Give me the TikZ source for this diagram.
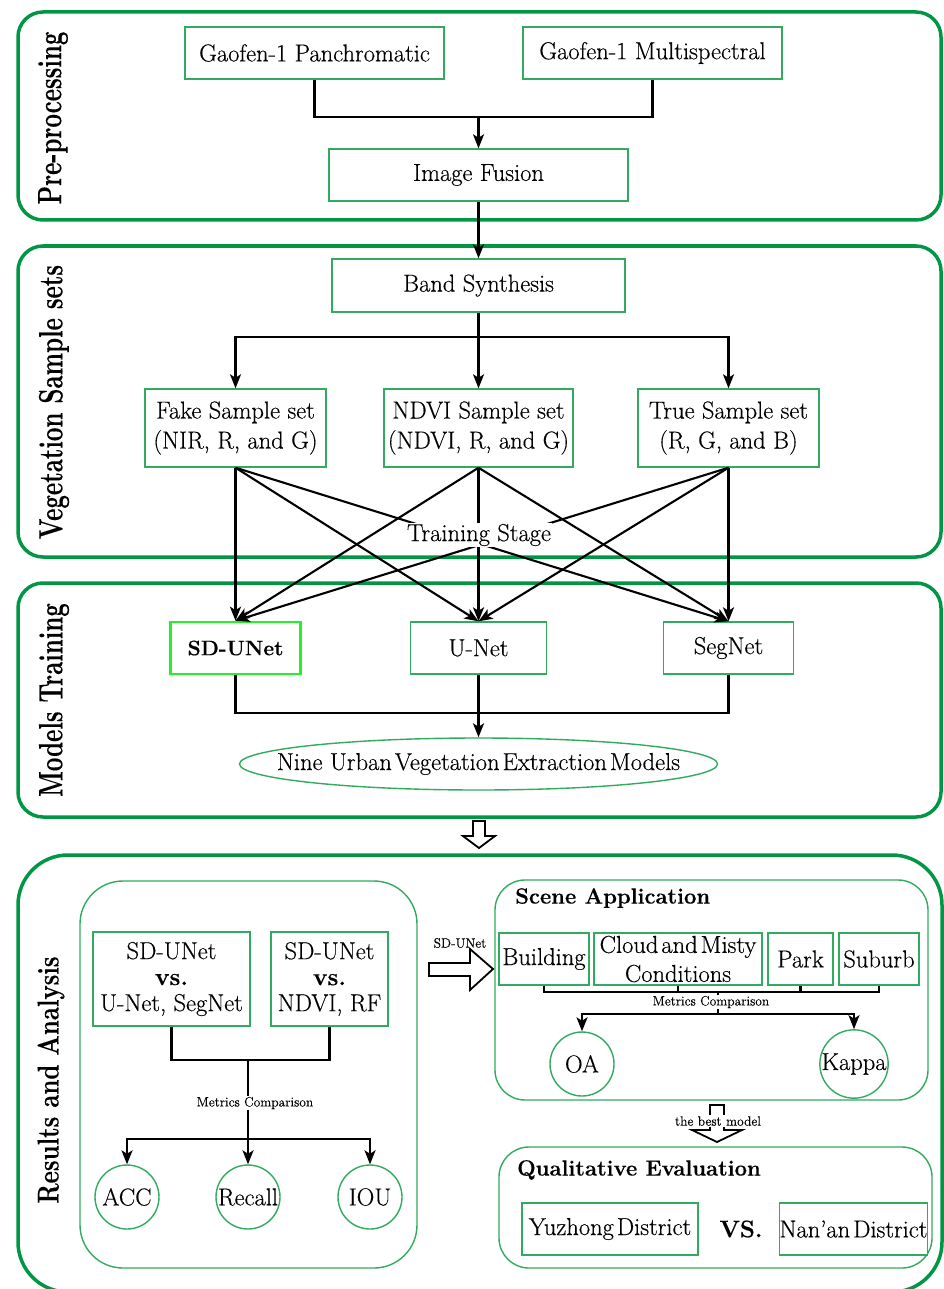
\documentclass[tikz,border=0pt]{standalone}
\usepackage{fontspec}
\setmainfont{Latin Modern Roman}[FakeBold=0.35]
\usetikzlibrary{arrows.meta,shapes.geometric}
\definecolor{pgreen}{RGB}{0,150,68}
\definecolor{ngreen}{RGB}{50,170,95}
\definecolor{sgreen}{RGB}{40,240,40}
\newcommand\fsz[2]{\fontsize{#1}{#2}\selectfont}
\tikzset{
 panel/.style={draw=pgreen, line width=3.5pt, rounded corners=25pt},
 ipanel/.style={draw=ngreen, line width=1.4pt, rounded corners=30pt},
 box/.style={draw=ngreen, line width=1.4pt, fill=white, inner sep=0pt, align=center, font=\fsz{24.5}{30}},
 circ/.style={circle, draw=ngreen, line width=1.4pt, minimum size=64pt, inner sep=0pt, font=\fsz{24.5}{28}},
 conn/.style={line width=2.1pt, black},
 arr/.style={conn, -{Stealth[length=14pt,width=11pt,inset=3.5pt]}},
 plabel/.style={rotate=90, font=\fsz{24}{28}\bfseries, inner sep=0pt},
 small/.style={font=\fsz{13.5}{15}, fill=white, inner sep=1pt},
 hollow/.style={draw=black, line width=1.8pt, fill=white, line join=miter},
 title/.style={anchor=west, font=\fsz{22}{26}\bfseries, inner sep=0pt},
}
\begin{document}
\begin{tikzpicture}[x=1pt,y=-1pt]
\useasboundingbox (0,0) rectangle (944,1289);
\clip (0,0) rectangle (944,1289);
% ---------- panels
\draw[panel] (18,12) rectangle (941,220);
\draw[panel] (18,246) rectangle (941,557);
\draw[panel] (18,583) rectangle (941,817);
\draw[panel, rounded corners=50pt] (18,855) rectangle (942,1292);
\node[plabel] (lab1) at (53,118) {\scalebox{1}[1.4]{Pre-processing}};
\node[plabel] (lab2) at (54,402) {\scalebox{1}[1.4]{Vegetation Sample sets}};
\node[plabel] (lab3) at (54,700) {\scalebox{1}[1.4]{Models Training}};
\node[plabel] (lab4) at (51,1080) {\scalebox{1}[1.25]{Results and Analysis}};
% ---------- pre-processing
\node[box, minimum width=259pt, minimum height=52pt] (gp) at (314.5,53) {Gaofen-1 Panchromatic};
\node[box, minimum width=259pt, minimum height=52pt] (gm) at (652.5,53) {Gaofen-1 Multispectral};
\node[box, minimum width=299pt, minimum height=52pt] (fus) at (478.5,175) {Image Fusion};
\coordinate (j1) at (478.5,117);
\draw[conn] (gp.south) |- (j1) -| (gm.south);
\draw[arr] (j1) -- (fus.north);
% ---------- sample sets
\node[box, minimum width=293pt, minimum height=53pt] (band) at (478.5,285.5) {Band Synthesis};
\draw[arr] (fus.south) -- (band.north);
\node[box, minimum width=181pt, minimum height=78pt] (fake) at (235.5,428) {Fake Sample set\\(NIR, R, and G)};
\node[box, minimum width=189pt, minimum height=78pt] (ndvi) at (478.5,428) {NDVI Sample set\\(NDVI, R, and G)};
\node[box, minimum width=181pt, minimum height=78pt] (true) at (728.5,428) {True Sample set\\(R, G, and B)};
\coordinate (j2) at (478.5,337);
\draw[conn] (band.south) -- (j2);
\draw[arr] (j2) -| (fake.north);
\draw[arr] (j2) -| (true.north);
\draw[arr] (j2) -- (ndvi.north);
% ---------- models
\node[box, draw=sgreen, line width=2.6pt, minimum width=130pt, minimum height=52pt, font=\fsz{21}{26}\bfseries] (sdu) at (235.5,648) {SD-UNet};
\node[box, minimum width=136pt, minimum height=52pt] (unet) at (478.5,648) {U-Net};
\node[box, minimum width=130pt, minimum height=52pt] (seg) at (728.5,648) {SegNet};
\foreach \s in {fake,ndvi,true}
  \foreach \t in {sdu,unet,seg}
    \draw[arr] (\s.south) -- (\t.north);
\node[font=\fsz{24.5}{28}, fill=white, inner sep=1pt] (train) at (479,535) {Training Stage};
\node[ellipse, draw=ngreen, line width=1.4pt, minimum width=478pt, minimum height=52pt, inner sep=0pt] (ell) at (478.5,764) {};
\node[font=\fsz{24.5}{28}, inner sep=0pt] (elltxt) at (ell.center) {Nine Urban\hspace{3pt}Vegetation\hspace{3pt}Extraction\hspace{3pt}Models};
\coordinate (j3) at (478.5,713);
\draw[conn] (sdu.south) |- (j3) -| (seg.south);
\draw[arr] (unet.south) -- (ell.north);
\draw[hollow] (473,821) -- (485,821) -- (485,836) -- (495,836) -- (479,848) -- (463,836) -- (473,836) -- cycle;
% ---------- results: left part
\draw[draw=ngreen, line width=1.4pt, rounded corners=43pt] (80,881) rectangle (417,1268);
\node[box, minimum width=157pt, minimum height=94pt, font=\fsz{24.5}{26}] (cmp1) at (171.5,979) {SD-UNet\\\textbf{vs.}\\U-Net, SegNet};
\node[box, minimum width=117pt, minimum height=94pt, font=\fsz{24.5}{26}] (cmp2) at (329.5,979) {SD-UNet\\\textbf{vs.}\\NDVI, RF};
\coordinate (j4) at (248,1060);
\coordinate (j5) at (248,1139);
\draw[conn] (cmp1.south) |- (j4) -| (cmp2.south);
\draw[conn] (j4) -- (j5);
\node[small] (mc1) at (255,1103) {Metrics Comparison};
\node[circ] (acc) at (127,1197) {ACC};
\node[circ] (rec) at (248,1197) {Recall};
\node[circ] (iou) at (370,1197) {IOU};
\draw[arr] (j5) -| (acc.north);
\draw[arr] (j5) -| (iou.north);
\draw[arr] (j5) -- (rec.north);
% ---------- scene application
\draw[ipanel] (495,880) rectangle (928,1100);
\node[title] (sa) at (515,898) {Scene Application};
\node[box, minimum width=90pt, minimum height=52pt] (bld) at (544,959) {Building};
\node[box, minimum width=168pt, minimum height=52pt, font=\fsz{24.5}{29}] (cld) at (678,959) {Cloud\hspace{3pt}and\hspace{3pt}Misty\\Conditions};
\node[box, minimum width=65pt, minimum height=52pt] (park) at (800.5,959) {Park};
\node[box, minimum width=80pt, minimum height=52pt] (sub) at (879,959) {Suburb};
\coordinate (k1) at (718,992);
\coordinate (k2) at (718,1014);
\draw[conn] (bld.south) |- (k1) -| (sub.south);
\draw[conn] (cld.south) -- (cld.south |- k1);
\draw[conn] (park.south) -- (park.south |- k1);
\draw[conn] (k1) -- (k2);
\node[small] (mc2) at (711,1002) {Metrics Comparison};
\node[circ] (oa) at (582,1064) {OA};
\node[circ] (kap) at (854,1064) {Kappa};
\draw[arr] (k2) -| (oa.north);
\draw[arr] (k2) -| (kap.north);
% SD-UNet hollow arrow
\draw[hollow] (429,963) -- (470,963) -- (470,949) -- (493,969) -- (470,990) -- (470,976) -- (429,976) -- cycle;
\node[font=\fsz{13.5}{15}, inner sep=0pt] (sdlab) at (460,943) {SD-UNet};
% best model arrow
\draw[hollow] (710,1105) -- (724,1105) -- (724,1130) -- (742,1130) -- (717,1142) -- (692,1130) -- (710,1130) -- cycle;
\node[small] (best) at (718,1121) {the best model};
% ---------- qualitative evaluation
\draw[ipanel] (499,1147) rectangle (932,1268);
\node[title] (qe) at (517,1170) {Qualitative Evaluation};
\node[box, minimum width=176pt, minimum height=52pt] (yz) at (610,1229) {Yuzhong\hspace{3pt}District};
\node[font=\fsz{24}{28}\bfseries, inner sep=0pt] (vs) at (741,1229) {VS.};
\node[box, minimum width=147pt, minimum height=52pt] (nan) at (853.5,1229) {Nan'an\hspace{3pt}District};
\end{tikzpicture}
\end{document}
